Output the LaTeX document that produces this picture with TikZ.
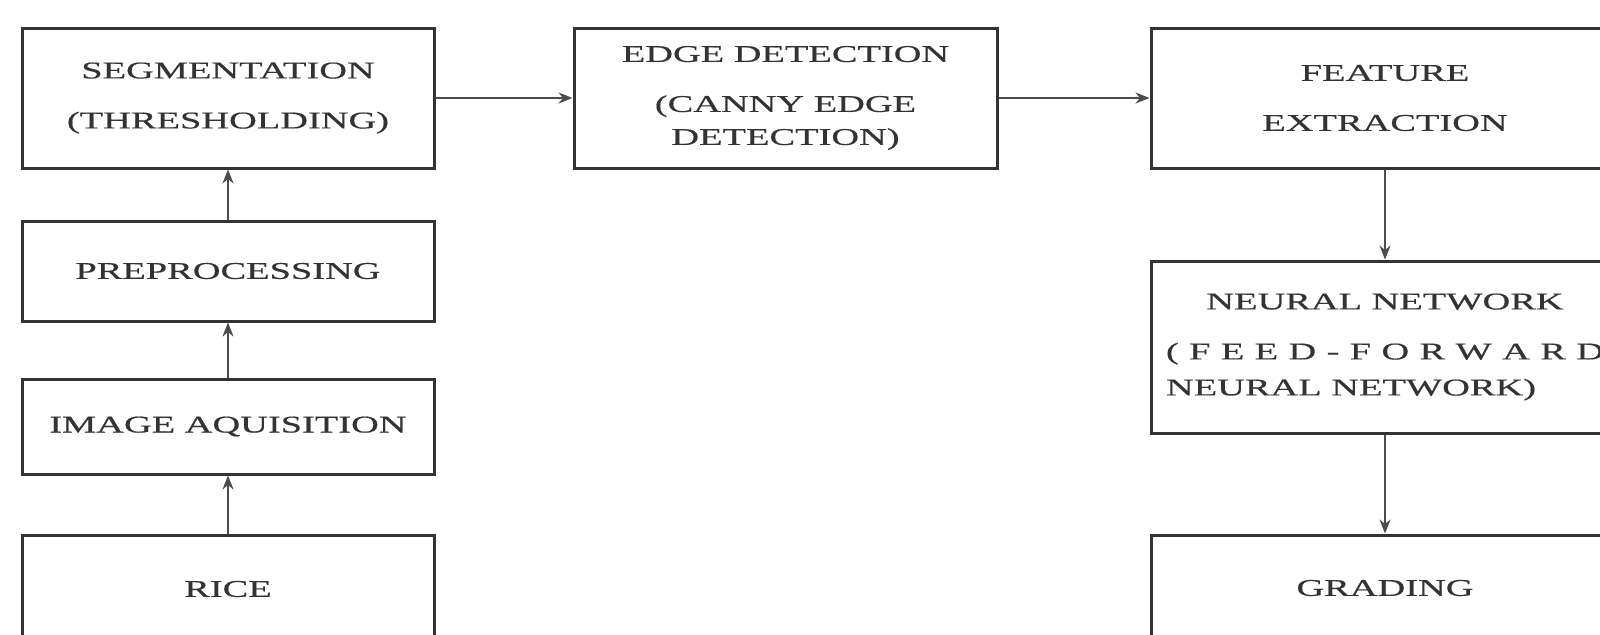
\documentclass[tikz,border=0pt]{standalone}
\usepackage{fontspec}
\setmainfont{Liberation Serif}[FakeStretch=1.6, FakeBold=0.5]
\usepackage{tikz}
\usetikzlibrary{arrows.meta}

\begin{document}
\begin{tikzpicture}[x=0.5pt, y=-0.5pt,
  box/.style = {draw=black!80, line width=1.5pt, inner sep=0pt, align=center, text=black!80, font=\fontsize{12}{16.5}\selectfont},
  arr/.style = {draw=black!70, line width=1pt, -{Stealth[length=7pt, width=5.5pt]}}]
		\clip (0,0) rectangle (1600,634);

		\begin{scope}[box/.append style={minimum width=206pt}]
			\node[box, minimum height=70pt] (seg) at (228,98) {SEGMENTATION\\[8.5pt](THRESHOLDING)};
			\node[box, minimum height=50pt] (pre) at (228,271) {PREPROCESSING};
			\node[box, minimum height=47.5pt] (acq) at (228,426.5) {IMAGE AQUISITION};
			\node[box, minimum height=54pt] (rice) at (228,589) {RICE};
		\end{scope}

		\node[box, minimum width=211.5pt, minimum height=70pt] (edge) at (785.5,98) {EDGE DETECTION\\[8.5pt](CANNY EDGE\\DETECTION)};

		\begin{scope}[box/.append style={minimum width=234pt}]
			\node[box, minimum height=70pt] (feat) at (1385,98) {FEATURE\\[8.5pt]EXTRACTION};
			\node[box, minimum height=86pt] (nn) at (1385,347) {NEURAL NETWORK\\[8.5pt]\makebox[219pt][s]{( F E E D - F O R W A R D}\\[1.5pt]\makebox[219pt][l]{NEURAL NETWORK)}};
			\node[box, minimum height=53pt] (grade) at (1385,588) {GRADING};
		\end{scope}

		\draw[arr] (rice) -- (acq);
		\draw[arr] (acq) -- (pre);
		\draw[arr] (pre) -- (seg);
		\draw[arr] (seg) -- (edge);
		\draw[arr] (edge) -- (feat);
		\draw[arr] (feat) -- (nn);
		\draw[arr] (nn) -- (grade);
	\end{tikzpicture}
\end{document}
